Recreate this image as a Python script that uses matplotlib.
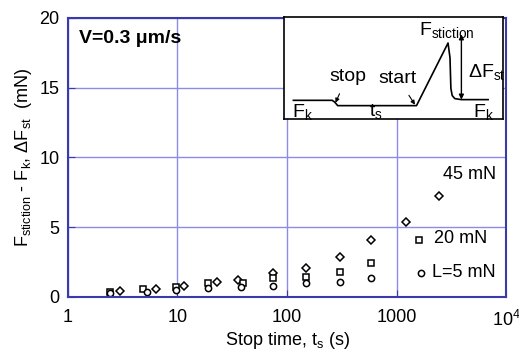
import matplotlib
matplotlib.use('Agg')
import matplotlib.pyplot as plt

plt.rcParams['font.family'] = ['Liberation Sans', 'DejaVu Sans']
plt.rcParams['mathtext.fontset'] = 'custom'
plt.rcParams['mathtext.rm'] = 'Liberation Sans'
plt.rcParams['mathtext.it'] = 'Liberation Sans'

# Stop time (s) and force values (mN)
t_45 = [3.0, 6.3, 11.5, 22.8, 36, 74, 149, 303, 590, 1210, 2450]
f_45 = [0.4, 0.55, 0.8, 1.1, 1.2, 1.7, 2.05, 2.85, 4.1, 5.4, 7.2]
t_20 = [2.4, 4.8, 9.7, 19, 40, 74, 149, 303, 590]
f_20 = [0.38, 0.57, 0.74, 1.0, 1.0, 1.35, 1.45, 1.8, 2.4]
t_5 = [2.4, 5.3, 9.7, 19, 38, 74, 149, 303, 590]
f_5 = [0.3, 0.35, 0.5, 0.64, 0.7, 0.8, 0.98, 1.1, 1.38]

# legend-style markers beside the load labels
key_t = [1600, 1660]
key_f = [4.1, 1.7]

frame_blue = '#3a3aa8'
grid_blue = '#8c8ce6'

fig = plt.figure(figsize=(5.19, 3.51), dpi=100)
ax = fig.add_axes([0.131, 0.154, 0.844, 0.795])

ax.plot(t_45, f_45, 'D', ms=4.2, mfc='white', mec='black', mew=1.1)
ax.plot(t_20, f_20, 's', ms=4.5, mfc='white', mec='black', mew=1.1)
ax.plot(t_5, f_5, 'o', ms=4.5, mfc='white', mec='black', mew=1.1)
ax.plot(key_t[0], key_f[0], 's', ms=4.5, mfc='white', mec='black', mew=1.1)
ax.plot(key_t[1], key_f[1], 'o', ms=4.5, mfc='white', mec='black', mew=1.1)

ax.text(2650, 8.8, '45 mN', fontsize=13, va='center')
ax.text(2200, 4.2, '20 mN', fontsize=13, va='center')
ax.text(2120, 1.75, 'L=5 mN', fontsize=13, va='center')

ax.set_xscale('log')
ax.set_xlim(1, 1e4)
ax.set_ylim(0, 20)
ax.set_xticks([1, 10, 100, 1000, 1e4])
ax.set_xticklabels(['1', '10', '100', '1000', r'10$^4$'])
ax.set_yticks([0, 5, 10, 15, 20])
ax.minorticks_off()
ax.tick_params(direction='in', length=5, color=frame_blue, labelsize=13, pad=6)
ax.tick_params(axis='x', pad=9)
ax.grid(True, color=grid_blue, lw=1)
for s in ax.spines.values():
    s.set_color(frame_blue)
    s.set_linewidth(1.5)

ax.set_xlabel('Stop time, t$_{\\rm s}$ (s)', fontsize=13, labelpad=0)
ax.set_ylabel('F$_{\\rm stiction}$ - F$_{\\rm k}$, $\\Delta$F$_{\\rm st}$  (mN)',
              fontsize=13, labelpad=4)

ax.text(0.025, 0.925, 'V=0.3 \u03bcm/s', transform=ax.transAxes, fontsize=14,
        fontweight='bold', va='center')

# inset schematic
ins = fig.add_axes([284 / 519, 1 - 119 / 351, 219 / 519, 102 / 351])
ins.set_xlim(0, 1)
ins.set_ylim(0, 1)
ins.set_xticks([])
ins.set_yticks([])
for s in ins.spines.values():
    s.set_color('black')
    s.set_linewidth(1.2)

trace_x = [0.043, 0.22, 0.232, 0.245, 0.605, 0.749, 0.758, 0.762, 0.768, 0.78, 0.81, 0.932]
trace_y = [0.183, 0.183, 0.165, 0.131, 0.131, 0.745, 0.6, 0.3, 0.23, 0.2, 0.19, 0.19]
ins.plot(trace_x, trace_y, color='black', lw=1.2)

ins.annotate('', xy=(0.81, 0.83), xytext=(0.81, 0.19),
             arrowprops=dict(arrowstyle='<|-|>', color='black', lw=1,
                             mutation_scale=7, shrinkA=0, shrinkB=0))
ins.text(0.84, 0.46, '$\\Delta$F$_{\\rm st}$', fontsize=14, va='center')
ins.text(0.745, 0.87, 'F$_{\\rm stiction}$', fontsize=14, ha='center', va='center')
ins.annotate('stop', xy=(0.235, 0.16), xytext=(0.29, 0.42), fontsize=14,
             ha='center', va='center',
             arrowprops=dict(arrowstyle='-|>', color='black', lw=0.8,
                             mutation_scale=6, shrinkA=5, shrinkB=0))
ins.annotate('start', xy=(0.598, 0.14), xytext=(0.52, 0.40), fontsize=14,
             ha='center', va='center',
             arrowprops=dict(arrowstyle='-|>', color='black', lw=0.8,
                             mutation_scale=6, shrinkA=5, shrinkB=0))
ins.text(0.085, 0.07, 'F$_{\\rm k}$', fontsize=14, ha='center', va='center')
ins.text(0.42, 0.07, 't$_{\\rm s}$', fontsize=14, ha='center', va='center')
ins.text(0.91, 0.07, 'F$_{\\rm k}$', fontsize=14, ha='center', va='center')

fig.savefig('out.png', dpi=100)
